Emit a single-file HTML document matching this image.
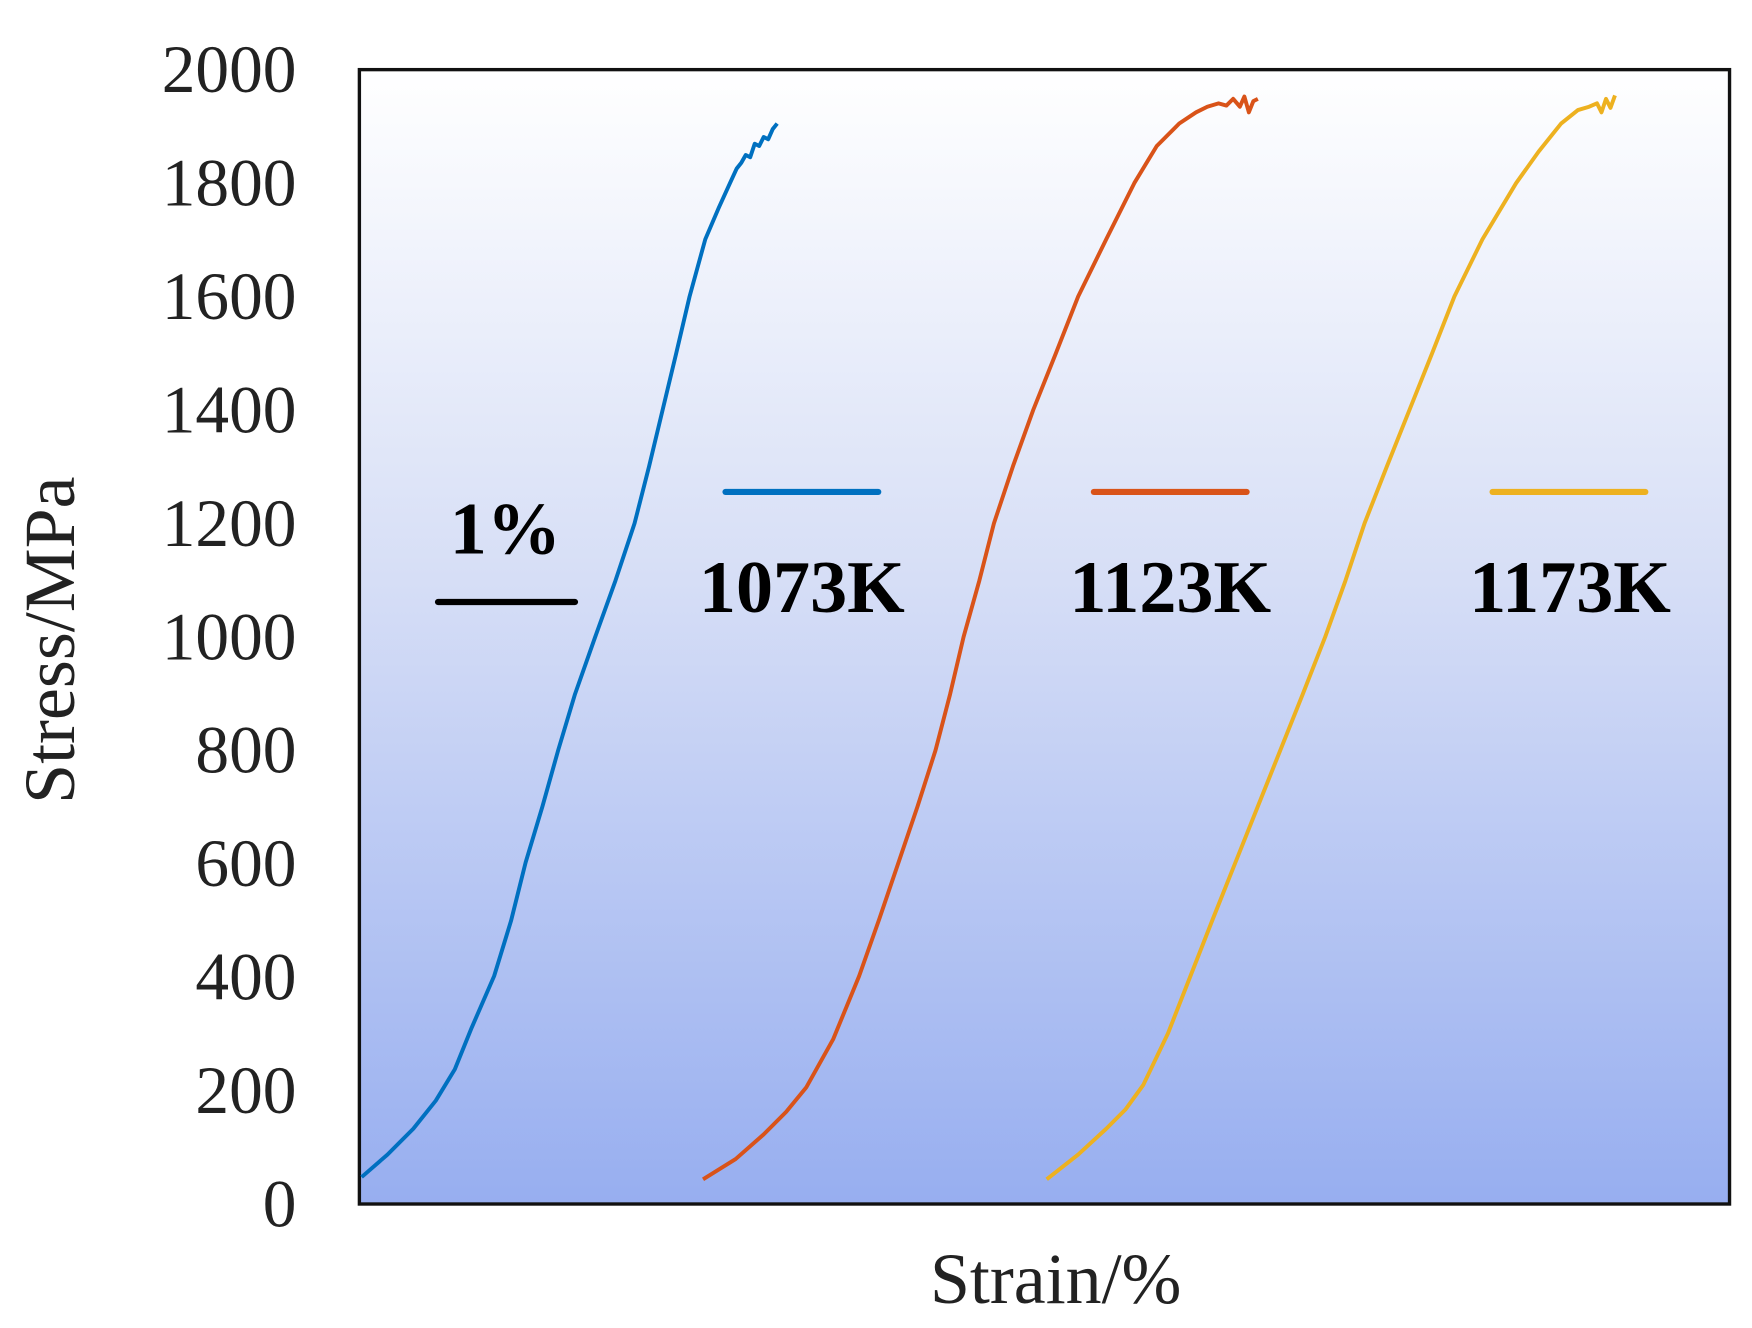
<!DOCTYPE html>
<html><head><meta charset="utf-8"><style>html,body{margin:0;padding:0;background:#fff}svg{display:block}</style></head>
<body>
<svg width="1752" height="1328" viewBox="0 0 1560 1182.4" preserveAspectRatio="none" xmlns="http://www.w3.org/2000/svg" font-family="Liberation Serif, serif">
<defs><linearGradient id="g" x1="0" y1="0" x2="0" y2="1"><stop offset="0" stop-color="#ffffff"/><stop offset="0.45" stop-color="#d6def6"/><stop offset="1" stop-color="#97aef0"/></linearGradient></defs>
<rect x="320" y="62" width="1220" height="1010" fill="url(#g)" stroke="#111" stroke-width="3"/>
<g font-size="60" fill="#222" text-anchor="end">
<text x="264" y="1092">0</text><text x="264" y="991">200</text><text x="264" y="890">400</text><text x="264" y="789">600</text><text x="264" y="688">800</text><text x="264" y="587">1000</text><text x="264" y="486">1200</text><text x="264" y="385">1400</text><text x="264" y="284">1600</text><text x="264" y="183">1800</text><text x="264" y="82">2000</text>
</g>
<text transform="translate(66,570) rotate(-90)" font-size="64" text-anchor="middle" fill="#222">Stress/MPa</text>
<text x="940" y="1160" font-size="64" text-anchor="middle" fill="#222">Strain/%</text>
<g fill="none" stroke-width="3.5" stroke-linejoin="round">
<polyline stroke="#0070c0" points="322,1048 345,1028 368,1005 388,980 405,952 420,915 440,869 455,820 468,768 483,718 497,668 512,618 530,567 548,517 565,466 578,415 590,365 602,315 614,264 628,213 640,185 650,163 656,150 660,145 664,138 668,140 672,128 676,130 680,122 684,124 688,115 692,110"/>
<polyline stroke="#d95319" points="626,1050 655,1032 680,1010 700,990 718,968 742,925 765,869 783,818 800,768 817,718 833,668 846,618 858,567 872,517 885,466 902,415 920,365 940,315 960,264 985,213 1010,163 1030,130 1050,110 1065,100 1075,95 1085,92 1092,94 1098,88 1104,95 1108,86 1112,100 1116,90 1120,88"/>
<polyline stroke="#edb120" points="932,1050 960,1028 985,1005 1002,988 1018,966 1040,920 1060,869 1080,818 1100,768 1120,718 1140,668 1160,618 1180,567 1198,517 1215,466 1235,415 1255,365 1275,315 1295,264 1320,213 1350,163 1370,135 1390,110 1405,98 1415,95 1422,92 1426,100 1430,88 1434,96 1438,85"/>
</g>
<g stroke-width="5.5" stroke-linecap="round">
<line x1="390" y1="536" x2="512" y2="536" stroke="#000"/>
<line x1="646" y1="438" x2="782" y2="438" stroke="#0070c0"/>
<line x1="974" y1="438" x2="1110" y2="438" stroke="#d95319"/>
<line x1="1329" y1="438" x2="1465" y2="438" stroke="#edb120"/>
</g>
<g font-size="66" font-weight="bold" fill="#000" text-anchor="middle">
<text x="450" y="493">1%</text>
<text x="714" y="545">1073K</text>
<text x="1042" y="545">1123K</text>
<text x="1398" y="545">1173K</text>
</g>
</svg>
</body></html>
